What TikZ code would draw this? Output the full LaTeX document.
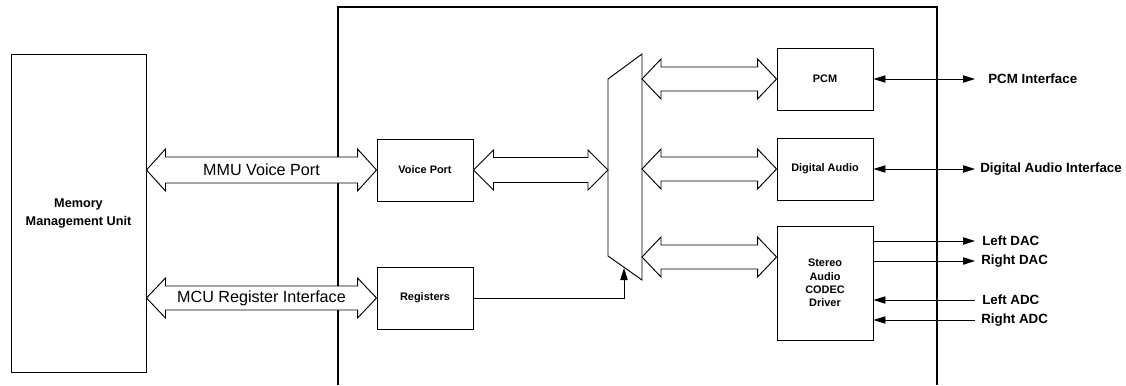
\documentclass[tikz,border=0pt]{standalone}
\usepackage{fontspec}
\setmainfont{Liberation Sans}
\usetikzlibrary{arrows.meta,calc}
\newcommand{\fatarrow}[5]{%
  \draw[fat] (#1) -- ($(#1)+(#5,-#4)$) -- ($(#1)+(#5,-#3)$) -- ($(#2)+(-#5,-#3)$)
   -- ($(#2)+(-#5,-#4)$) -- (#2) -- ($(#2)+(-#5,#4)$) -- ($(#2)+(-#5,#3)$)
   -- ($(#1)+(#5,#3)$) -- ($(#1)+(#5,#4)$) -- cycle;}
\begin{document}
\begin{tikzpicture}[x=0.75pt,y=-0.75pt,
  box/.style={draw,line width=0.7pt,fill=white,inner sep=0pt,align=center,
    font=\fontsize{8.2}{10}\selectfont\bfseries},
  fat/.style={draw,line width=0.7pt,fill=white},
  sig/.style={line width=0.7pt,-{Triangle[length=9pt,width=5.5pt]}},
  bisig/.style={line width=0.7pt,{Triangle[length=9pt,width=5.5pt]}-{Triangle[length=9pt,width=5.5pt]}},
  lbl/.style={anchor=west,inner sep=0pt,font=\fontsize{10}{12}\selectfont\bfseries},
  flbl/.style={inner sep=0pt,font=\fontsize{12.1}{14}\selectfont},
]
\useasboundingbox (0,0) rectangle (1126,385);
% main block outline
\draw[line width=1.3pt] (338,385) -- (338,7) -- (937,7) -- (937,385);

% boxes
\node[box,minimum width=101.25pt,minimum height=238.5pt,font=\fontsize{9.5}{13.5}\selectfont\bfseries] (mmu) at (78.5,213) {Memory\\Management Unit};
\node[box,minimum width=72pt,minimum height=46.5pt] (vp) at (425,170) {Voice Port};
\node[box,minimum width=72pt,minimum height=46.5pt] (reg) at (425,298) {Registers};
\node[box,minimum width=72pt,minimum height=46.5pt] (pcm) at (825,79) {PCM};
\node[box,minimum width=72pt,minimum height=46.5pt] (da) at (825,169) {Digital Audio};
\node[box,minimum width=72pt,minimum height=85.5pt,font=\fontsize{8.2}{10}\selectfont\bfseries] (sac) at (825,283) {Stereo\\Audio\\CODEC\\Driver};

% mux
\draw[line width=0.7pt,fill=white] (608,79) -- (642,54) -- (642,280) -- (608,256) -- cycle;
\coordinate (mvp) at (608,170);
\coordinate (m1) at (642,79);
\coordinate (m2) at (642,169);
\coordinate (m3) at (642,257);
\coordinate (mreg) at (624,268);

% fat arrows
\coordinate (a1) at (mmu.east |- vp.west);
\coordinate (a2) at (mmu.east |- reg.west);
\fatarrow{a1}{vp.west}{13}{21}{19}
\fatarrow{a2}{reg.west}{12}{20}{19}
\node[flbl] at ($(a1)!0.5!(vp.west)$) {MMU Voice Port};
\node[flbl] at ($(a2)!0.5!(reg.west)$) {MCU Register Interface};
\fatarrow{vp.east}{mvp}{12.5}{20}{20}
\fatarrow{m1}{pcm.west}{12}{20}{19}
\fatarrow{m2}{da.west}{12}{20}{19}
\coordinate (s1) at (sac.west |- m3);
\fatarrow{m3}{s1}{12}{20}{19}

% registers to mux select
\draw[sig] (reg.east) -| (mreg);

% external signals
\coordinate (pcmE) at (975,79);
\coordinate (daE) at (975,169);
\node[lbl] (pcmif) at (988,79) {PCM Interface};
\node[lbl] (daif) at (980,169) {Digital Audio Interface};
\draw[bisig] (pcm.east) -- (pcmE);
\draw[bisig] (da.east) -- (daE);

\coordinate (ld0) at (sac.east |- 0,241);
\coordinate (rd0) at (sac.east |- 0,261);
\coordinate (la0) at (sac.east |- 0,300);
\coordinate (ra0) at (sac.east |- 0,320);
\coordinate (ld1) at (975,241);
\coordinate (rd1) at (975,261);
\coordinate (la1) at (975,300);
\coordinate (ra1) at (975,320);
\node[lbl] (ldac) at (982,241) {Left DAC};
\node[lbl] (rdac) at (981,261) {Right DAC};
\node[lbl] (ladc) at (982,300) {Left ADC};
\node[lbl] (radc) at (981,320) {Right ADC};
\draw[sig] (ld0) -- (ld1);
\draw[sig] (rd0) -- (rd1);
\draw[sig] (la1) -- (la0);
\draw[sig] (ra1) -- (ra0);
\end{tikzpicture}
\end{document}
